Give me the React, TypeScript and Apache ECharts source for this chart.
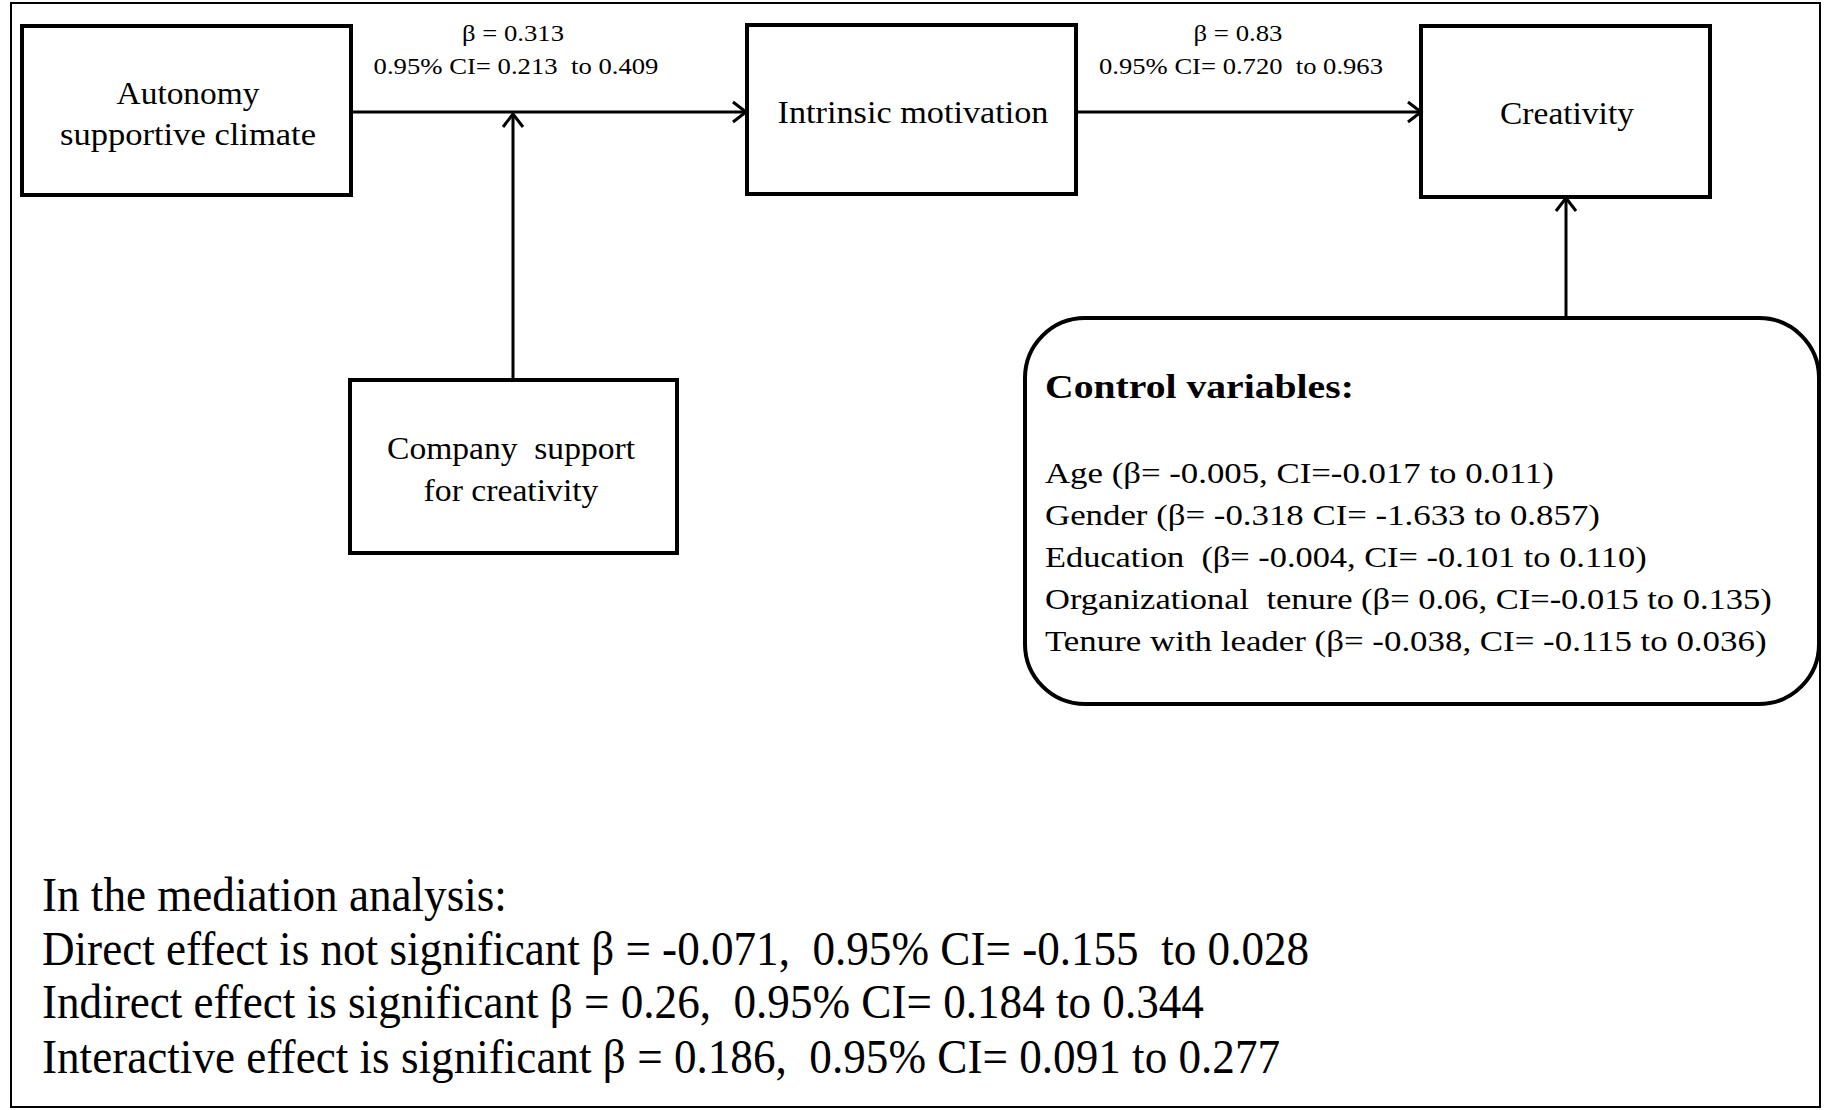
import { useEffect, useRef } from "react";
import * as echarts from "echarts";

const FONT = "Liberation Serif, Times New Roman, serif";
const S2 = " \u00A0"; // a double space that is kept

// ---- content ----
const pathBeta = ["β = 0.313", "β = 0.83"];
const pathCI = [`0.95% CI= 0.213${S2}to 0.409`, `0.95% CI= 0.720${S2}to 0.963`];
const autonomyLabel = ["Autonomy", "supportive climate"];
const motivationLabel = ["Intrinsic motivation"];
const creativityLabel = ["Creativity"];
const companyLabel = [`Company${S2}support`, "for creativity"];
const controlTitle = "Control variables:";
const controlLines = [
  "Age (β= -0.005, CI=-0.017 to 0.011)",
  "Gender (β= -0.318 CI= -1.633 to 0.857)",
  `Education${S2}(β= -0.004, CI= -0.101 to 0.110)`,
  `Organizational${S2}tenure (β= 0.06, CI=-0.015 to 0.135)`,
  "Tenure with leader (β= -0.038, CI= -0.115 to 0.036)",
];
const mediationLines = [
  "In the mediation analysis:",
  `Direct effect is not significant β = -0.071,${S2}0.95% CI= -0.155${S2}to 0.028`,
  `Indirect effect is significant β = 0.26,${S2}0.95% CI= 0.184 to 0.344`,
  `Interactive effect is significant β = 0.186,${S2}0.95% CI= 0.091 to 0.277`,
];

// ---- layout (pixels) ----
const W = 1824;
const H = 1110;

let ctx: CanvasRenderingContext2D | null = null;
function measure(text: string, size: number, weight: string) {
  if (!ctx) ctx = document.createElement("canvas").getContext("2d");
  ctx!.font = `${weight} ${size}px ${FONT}`;
  return ctx!.measureText(text).width;
}

function txt(
  text: string,
  x: number,
  y: number,
  size: number,
  width: number,
  align: "left" | "center",
  weight = "normal"
) {
  const w = measure(text, size, weight);
  return {
    type: "text",
    x,
    y,
    scaleX: width / w,
    z: 10,
    style: {
      text,
      x: 0,
      y: 0,
      fontSize: size,
      fontFamily: FONT,
      fontWeight: weight,
      fill: "#000",
      align,
      verticalAlign: "middle",
      textAlign: align,
      textVerticalAlign: "middle",
    },
  };
}

function box(x: number, y: number, w: number, h: number, lw = 4, r = 0) {
  return {
    type: "rect",
    z: 5,
    shape: { x, y, width: w, height: h, r },
    style: { fill: "#fff", stroke: "#000", lineWidth: lw },
  };
}

function line(x1: number, y1: number, x2: number, y2: number, lw = 3) {
  return {
    type: "line",
    z: 4,
    shape: { x1, y1, x2, y2 },
    style: { stroke: "#000", lineWidth: lw },
  };
}

function head(x: number, y: number, dir: "right" | "up") {
  const L = 13;
  const S = 10;
  const pts =
    dir === "right"
      ? [[x - L, y - S], [x, y], [x - L, y + S]]
      : [[x - S, y + L], [x, y], [x + S, y + L]];
  return {
    type: "polyline",
    z: 6,
    shape: { points: pts },
    style: { fill: null, stroke: "#000", lineWidth: 3 },
  };
}

function buildGraphics() {
  const g: any[] = [];
  // outer frame
  g.push({
    type: "rect",
    z: 1,
    shape: { x: 11, y: 3, width: 1809, height: 1104 },
    style: { fill: "#fff", stroke: "#000", lineWidth: 2 },
  });
  // arrows
  g.push(line(351, 112, 745, 112));
  g.push(head(746, 112, "right"));
  g.push(line(1076, 112, 1420, 112));
  g.push(head(1421, 112, "right"));
  g.push(line(513, 380, 513, 115));
  g.push(head(513, 114, "up"));
  g.push(line(1566, 318, 1566, 199));
  g.push(head(1566, 198, "up"));
  // boxes
  g.push(box(22, 26, 329, 169));
  g.push(box(747, 25, 329, 169));
  g.push(box(1421, 26, 289, 171));
  g.push(box(350, 380, 327, 173));
  g.push(box(1025, 318, 794, 386, 4, 60));
  // path labels
  g.push(txt(pathBeta[0], 513, 33, 23, 102, "center"));
  g.push(txt(pathCI[0], 516, 66, 23, 285, "center"));
  g.push(txt(pathBeta[1], 1238, 33, 23, 89, "center"));
  g.push(txt(pathCI[1], 1241, 66, 23, 284, "center"));
  // box labels
  g.push(txt(autonomyLabel[0], 188, 93, 31, 143, "center"));
  g.push(txt(autonomyLabel[1], 188, 135, 31, 256, "center"));
  g.push(txt(motivationLabel[0], 913, 113, 31, 271, "center"));
  g.push(txt(creativityLabel[0], 1567, 113, 31, 134, "center"));
  g.push(txt(companyLabel[0], 511, 448, 31, 248, "center"));
  g.push(txt(companyLabel[1], 511, 490, 31, 175, "center"));
  // control variables
  g.push(txt(controlTitle, 1045, 386, 34, 309, "left", "bold"));
  const ctrlW = [509, 555, 602, 727, 722];
  controlLines.forEach((t, i) => g.push(txt(t, 1045, 473 + 42 * i, 29, ctrlW[i], "left")));
  // mediation
  const medY = [895, 949, 1002, 1057];
  const medW = [465, 1267, 1162, 1238];
  mediationLines.forEach((t, i) => g.push(txt(t, 42, medY[i], 48, medW[i], "left")));
  return g;
}

export default function App() {
  const ref = useRef<HTMLDivElement>(null);
  useEffect(() => {
    if (!ref.current) return;
    const chart = echarts.init(ref.current, undefined, { renderer: "svg", width: W, height: H });
    chart.setOption({
      animation: false,
      backgroundColor: "#fff",
      graphic: { elements: buildGraphics() },
    });
    return () => chart.dispose();
  }, []);
  return (
    <div
      ref={ref}
      style={{ position: "fixed", left: 0, top: 0, width: W, height: H, background: "#fff" }}
    />
  );
}
